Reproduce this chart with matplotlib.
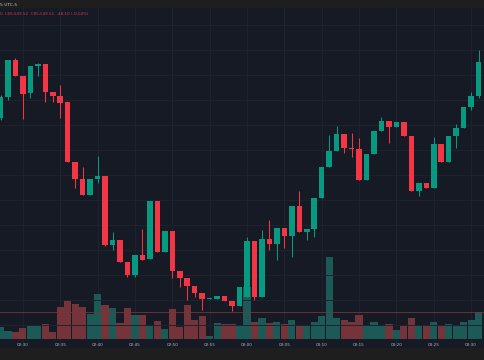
import matplotlib
matplotlib.use("Agg")
import matplotlib.pyplot as plt
import matplotlib.transforms as mtransforms
import numpy as np

# 1-minute candles, 02:27 .. 03:31
opens  = [85764, 85806, 85880, 85848, 85814, 85868, 85872, 85816, 85808, 85796,
          85676, 85642, 85610, 85642, 85648, 85510, 85520, 85476, 85450, 85490,
          85482, 85598, 85496, 85538, 85458, 85444, 85428, 85414, 85403, 85402,
          85408, 85398, 85388, 85406, 85518, 85406, 85522, 85512, 85544, 85528,
          85588, 85536, 85542, 85604, 85666, 85698, 85732, 85704, 85702, 85640,
          85692, 85738, 85758, 85746, 85756, 85728, 85618, 85634, 85624, 85712,
          85676, 85728, 85744, 85786, 85808]
highs  = [85810, 85880, 85884, 85848, 85868, 85874, 85872, 85816, 85830, 85796,
          85676, 85666, 85642, 85688, 85648, 85536, 85520, 85476, 85490, 85542,
          85598, 85598, 85538, 85538, 85458, 85444, 85428, 85414, 85404, 85408,
          85408, 85398, 85426, 85526, 85518, 85540, 85560, 85544, 85544, 85588,
          85618, 85542, 85604, 85666, 85730, 85748, 85732, 85734, 85724, 85692,
          85738, 85766, 85758, 85756, 85756, 85728, 85634, 85634, 85726, 85712,
          85728, 85752, 85786, 85816, 85900]
lows   = [85760, 85800, 85848, 85762, 85804, 85848, 85796, 85796, 85764, 85676,
          85624, 85610, 85610, 85634, 85508, 85500, 85476, 85446, 85446, 85480,
          85482, 85496, 85496, 85444, 85426, 85400, 85406, 85380, 85403, 85402,
          85398, 85378, 85388, 85406, 85400, 85406, 85500, 85480, 85504, 85486,
          85536, 85520, 85526, 85604, 85666, 85698, 85694, 85686, 85640, 85640,
          85692, 85738, 85714, 85746, 85728, 85618, 85608, 85624, 85624, 85676,
          85676, 85704, 85744, 85780, 85804]
closes = [85806, 85880, 85848, 85812, 85868, 85872, 85816, 85808, 85794, 85676,
          85642, 85610, 85642, 85648, 85510, 85520, 85476, 85450, 85490, 85480,
          85598, 85496, 85538, 85458, 85444, 85428, 85414, 85402, 85404, 85408,
          85398, 85388, 85426, 85518, 85406, 85522, 85512, 85544, 85528, 85588,
          85536, 85542, 85604, 85666, 85698, 85732, 85704, 85702, 85640, 85692,
          85738, 85758, 85746, 85756, 85728, 85618, 85634, 85624, 85712, 85676,
          85728, 85744, 85786, 85808, 85876]
volumes = [24, 16, 14, 22, 26, 26, 30, 14, 64, 78,
           70, 64, 50, 90, 68, 62, 32, 62, 48, 48,
           26, 36, 20, 60, 24, 68, 38, 46, 6, 32,
           30, 30, 26, 104, 34, 42, 32, 34, 30, 38,
           26, 26, 34, 46, 164, 42, 38, 34, 48, 28,
           34, 26, 30, 18, 26, 42, 26, 28, 34, 26,
           30, 26, 34, 38, 54]
tick_idx = [3, 8, 13, 18, 23, 28, 33, 38, 43, 48, 53, 58, 63]
tick_labels = ["02:30", "02:35", "02:40", "02:45", "02:50", "02:55", "03:00",
               "03:05", "03:10", "03:15", "03:20", "03:25", "03:30"]

UP = "#089981"
DOWN = "#f23645"
VUP = "#1c5a57"
VDOWN = "#75343a"
BG = "#161a25"
GRID = "#1e2330"

o = np.array(opens); h = np.array(highs); l = np.array(lows); c = np.array(closes)
x = np.arange(len(o))
up = c >= o

fig = plt.figure(figsize=(4.85, 3.6), dpi=100, facecolor="#1e1e1e")
rect = [0, 12 / 360, 1, 340 / 360]
vax = fig.add_axes(rect, facecolor=BG)
ax = fig.add_axes(rect, facecolor="none")
xlim = (-0.067, 64.86)
for a in (ax, vax):
    a.set_xlim(*xlim)
    for s in a.spines.values():
        s.set_visible(False)
    a.set_xticks([]); a.set_yticks([])

ax.set_ylim(85304, 85984)
vax.set_ylim(-18, 662)

# grid
for t in tick_idx:
    vax.axvline(t, color=GRID, lw=0.7, zorder=0)
for p in np.arange(85350, 85984, 50):
    ax.axhline(p, color=GRID, lw=0.7, zorder=0)

# volume
vax.bar(x, volumes, width=0.96, color=np.where(up, VUP, VDOWN), zorder=1)
vax.axhline(volumes[-1], color=VDOWN, lw=0.6, zorder=1)

# candles
col = np.where(up, UP, DOWN)
ax.vlines(x, l, h, colors=col, lw=0.75, zorder=2)
body_lo = np.minimum(o, c)
body_h = np.maximum(np.abs(c - o), 1.6)
ax.bar(x, body_h, bottom=body_lo, width=0.74, color=col, zorder=3)

# time labels
trans = mtransforms.blended_transform_factory(ax.transData, ax.transAxes)
for t, lab in zip(tick_idx, tick_labels):
    ax.text(t, 3.5 / 340, lab, transform=trans, ha="center", va="center",
            fontsize=3.0, color="#b2b5be")

# header
fig.patches.append(plt.Rectangle((0, 1 - 8 / 360), 1, 8 / 360,
                                 transform=fig.transFigure, color="#1e1e1e", zorder=-1))
fig.text(0.0, 1 - 4.5 / 360, "5 UTC-5", fontsize=3.2, color="#c8c8c8",
         ha="left", va="center")
fig.text(0.0, 1 - 14 / 360, "0  L85,549.52  C85,549.51  -48.10 (-0.04%)",
         fontsize=3.0, color="#d0384a", ha="left", va="center")

fig.savefig("out.png", dpi=100, facecolor=fig.get_facecolor())
